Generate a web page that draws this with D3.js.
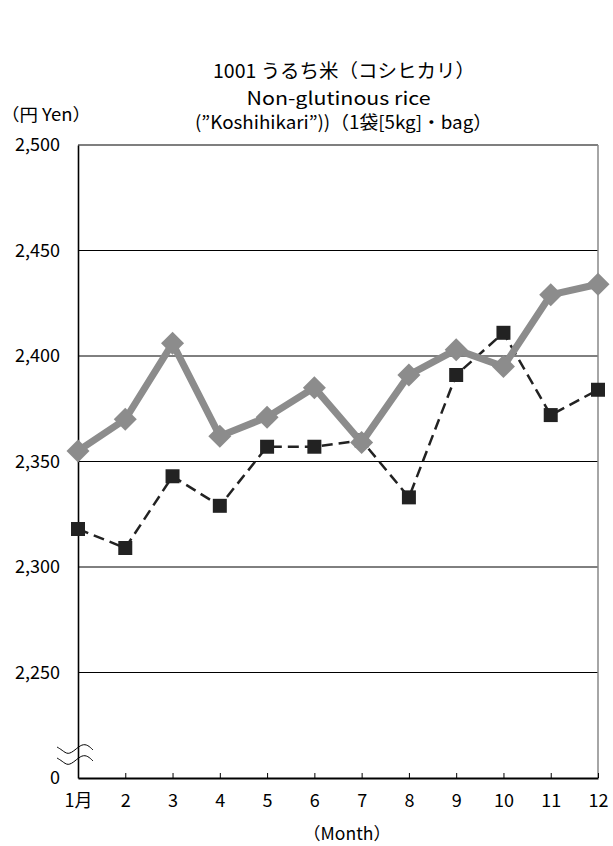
<!DOCTYPE html>
<html>
<head>
<meta charset="utf-8">
<script src="https://cdn.jsdelivr.net/npm/d3@7"></script>
<style>
  html, body { margin: 0; padding: 0; background: #fff; }
  svg { display: block; }
  text { font-family: "Noto Sans CJK JP", "Noto Sans", sans-serif; fill: #000; }
</style>
</head>
<body>
<svg id="chart" width="613" height="846"></svg>
<script>
// ---- Data ----
const months = [1, 2, 3, 4, 5, 6, 7, 8, 9, 10, 11, 12];
const monthLabels = ["1月", "2", "3", "4", "5", "6", "7", "8", "9", "10", "11", "12"];
const seriesGray = [2355, 2370, 2406, 2362, 2371, 2385, 2359, 2391, 2403, 2395, 2429, 2434];
const seriesBlack = [2318, 2309, 2343, 2329, 2357, 2357, 2360, 2333, 2391, 2411, 2372, 2384];
const yTickValues = [2200, 2250, 2300, 2350, 2400, 2450, 2500];
const yTickLabels = ["0", "2,250", "2,300", "2,350", "2,400", "2,450", "2,500"];
const gridValues = [2250, 2300, 2350, 2400, 2450];
const titleLines = ["1001 うるち米（コシヒカリ）", "Non-glutinous rice", "(”Koshihikari”))（1袋[5kg]・bag）"];
const yUnit = "（円 Yen）";
const xUnit = "（Month）";

// ---- Layout ----
const L = 78, R = 598, T = 145, B = 778;
const svg = d3.select("#chart");

const x = d3.scaleLinear().domain([1, 12]).range([L, R]);
const y = d3.scaleLinear().domain([2200, 2500]).range([B, T]);

// gridlines
svg.append("g").selectAll("line").data(gridValues).join("line")
  .attr("x1", L).attr("x2", R)
  .attr("y1", d => y(d)).attr("y2", d => y(d))
  .attr("stroke", "#000").attr("stroke-width", 1);

// top border
svg.append("line").attr("x1", L).attr("x2", R).attr("y1", y(2500)).attr("y2", y(2500))
  .attr("stroke", "#000").attr("stroke-width", 1.2);
// right border (gray)
svg.append("line").attr("x1", R).attr("x2", R).attr("y1", T).attr("y2", B)
  .attr("stroke", "#888").attr("stroke-width", 1.5);

// y axis
const yAxis = d3.axisLeft(y).tickValues(yTickValues)
  .tickFormat((d, i) => yTickLabels[i]).tickSize(0).tickPadding(18);
const gy = svg.append("g").attr("transform", `translate(${L},0)`).call(yAxis);
gy.select(".domain").attr("stroke", "#000").attr("stroke-width", 1.6);
gy.selectAll("text").style("font-size", "18px").attr("fill", "#000");

// x axis
const xAxis = d3.axisBottom(x).tickValues(months)
  .tickFormat((d, i) => monthLabels[i]).tickSize(-5).tickPadding(16).tickSizeOuter(0);
const gx = svg.append("g").attr("transform", `translate(0,${B})`).call(xAxis);
gx.select(".domain").attr("stroke", "#000").attr("stroke-width", 1.8);
gx.selectAll(".tick line").attr("stroke", "#000").attr("stroke-width", 1);
gx.selectAll("text").style("font-size", "18px").attr("fill", "#000");

// axis break symbol
const wave = d3.line().curve(d3.curveBasis);
[[0, 0], [0, 11]].forEach(([dx, dy]) => {
  const pts = [[57, 747], [62, 750], [68, 755], [75, 750], [82, 744], [88, 745], [93, 750]]
    .map(p => [p[0] + dx, p[1] + dy]);
  svg.append("path").attr("d", wave(pts)).attr("fill", "none")
    .attr("stroke", "#000").attr("stroke-width", 1);
});

// black dashed series
const line = d3.line().x((d, i) => x(months[i])).y(d => y(d));
svg.append("path").datum(seriesBlack).attr("d", line)
  .attr("fill", "none").attr("stroke", "#222").attr("stroke-width", 2.5)
  .attr("stroke-dasharray", "11,6");
svg.append("g").selectAll("path").data(seriesBlack).join("path")
  .attr("d", d3.symbol(d3.symbolSquare, 196)())
  .attr("transform", (d, i) => `translate(${x(months[i])},${y(d)})`)
  .attr("fill", "#222");

// gray series
svg.append("path").datum(seriesGray).attr("d", line)
  .attr("fill", "none").attr("stroke", "#8c8c8c").attr("stroke-width", 7)
  .attr("stroke-linejoin", "miter");
svg.append("g").selectAll("path").data(seriesGray).join("path")
  .attr("d", d3.symbol(d3.symbolSquare, 265)())
  .attr("transform", (d, i) => `translate(${x(months[i])},${y(d)}) rotate(45)`)
  .attr("fill", "#8c8c8c");

// titles
function label(txt, xPos, yPos, size, len, anchor) {
  svg.append("text").attr("x", xPos).attr("y", yPos)
    .attr("text-anchor", anchor || "middle")
    .attr("textLength", len).attr("lengthAdjust", "spacingAndGlyphs")
    .style("font-size", size + "px").text(txt);
}
label(titleLines[0], 344, 78, 19, 262);
label(titleLines[1], 338.5, 105, 18, 184);
label(titleLines[2], 343.5, 129, 18, 297);

// unit labels
label(yUnit, 1, 121, 17, 90, "start");
label(xUnit, 347, 840, 17, 88);
</script>
</body>
</html>
